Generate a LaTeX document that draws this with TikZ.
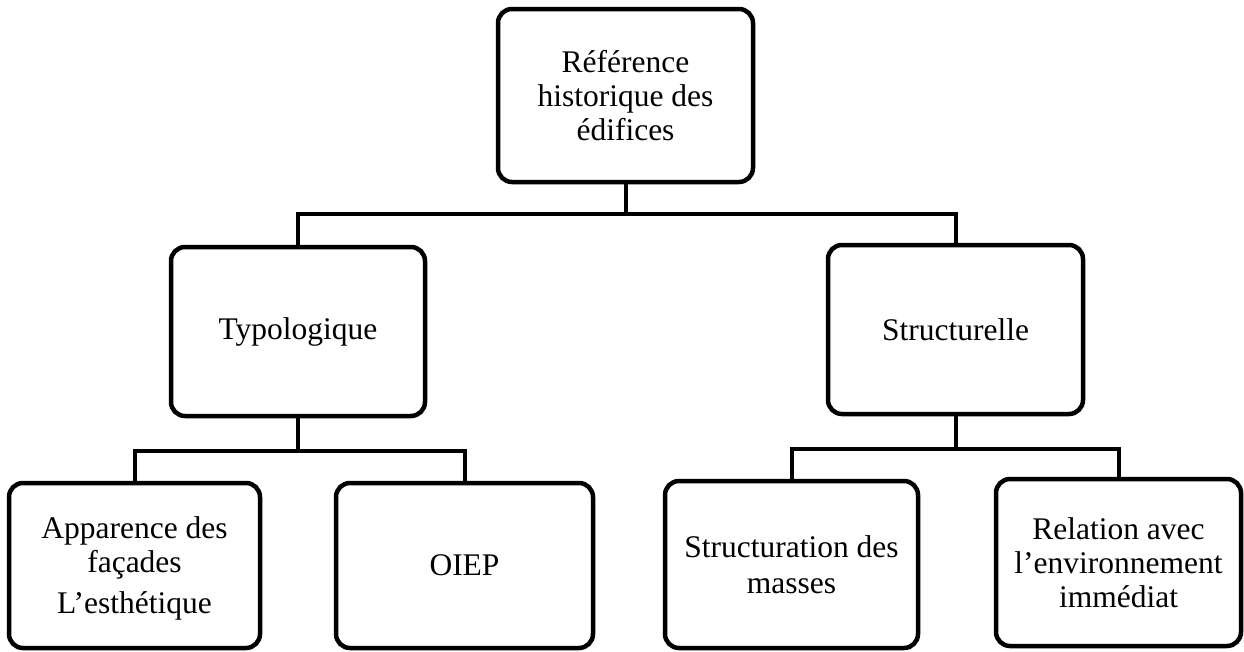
\documentclass[tikz,border=0pt]{standalone}
\usepackage{fontspec}
\setmainfont{Liberation Serif}
\begin{document}
\begin{tikzpicture}[x=1pt,y=-1pt,
  box/.style={draw=black, line width=4.5pt, rounded corners=14pt, fill=white,
    align=center, inner sep=0pt, font=\fontsize{31.5}{34}\selectfont},
  conn/.style={draw=black, line width=4pt}]
\useasboundingbox (0,0) rectangle (1244,651);
% boxes
\node[box, minimum width=255pt, minimum height=173pt] (top) at (625.5,95.5) {Référence\\historique des\\édifices};
\node[box, minimum width=254pt, minimum height=169pt] (typo) at (298,331.5) {Typologique};
\node[box, minimum width=255pt, minimum height=169pt] (struc) at (955.5,329.5) {Structurelle};
\node[box, minimum width=251pt, minimum height=165pt] (app) at (134.5,565.5) {\\[-6pt]Apparence des\\façades\\[7pt]L’esthétique};
\node[box, minimum width=257pt, minimum height=165pt] (oiep) at (464.5,565.5) {OIEP};
\node[box, minimum width=253pt, minimum height=167pt] (strm) at (791.5,564.5) {Structuration des\\[2pt]masses};
\node[box, minimum width=245pt, minimum height=167pt] (rel) at (1118.5,562.5) {Relation avec\\l’environnement\\immédiat};
% connectors
\draw[conn] (top.south) -- ++(0,30) coordinate (j1);
\draw[conn] (typo.north) |- (j1) -| (struc.north);
\draw[conn] (typo.south) -- ++(0,33) coordinate (j2);
\draw[conn] (app.north) |- (j2) -| (oiep.north);
\draw[conn] (struc.south) -- ++(0,33) coordinate (j3);
\draw[conn] (strm.north) |- (j3) -| (rel.north);
\end{tikzpicture}
\end{document}
